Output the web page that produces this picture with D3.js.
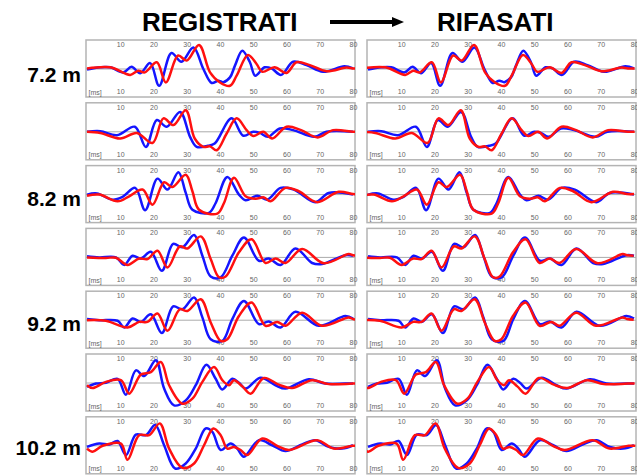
<!DOCTYPE html>
<html>
<head>
<meta charset="utf-8">
<script src="https://cdn.jsdelivr.net/npm/d3@7"></script>
<style>
  body { margin: 0; background: #fff; }
  svg { display: block; }
  text { font-family: "Liberation Sans", Arial, sans-serif; }
</style>
</head>
<body>
<svg id="chart" width="637" height="475"></svg>
<script>
// traces: [time ms, amplitude], amplitude 1 = panel half height
const blueRow1 = [[0,-0.02],[4,0.06],[7,0.06],[11,-0.12],[13.4,0.08],[16,-0.15],[19,0.21],[21.7,-0.6],[25.4,0.57],[28.4,0.26],[32,0.77],[35,0],[37.5,-0.5],[39.5,-0.42],[41,-0.47],[43,-0.3],[44.5,0.12],[46.7,0.65],[49,0.24],[50.6,-0.24],[53.4,0.06],[55.5,0.02],[58.4,-0.21],[62,0.26],[66,0.14],[71,-0.1],[77.4,0.1],[80,0.02]];
const redRow1 = [[0,0.02],[7,0.06],[13,-0.21],[15.4,-0.06],[17.4,-0.12],[21,0.24],[23.7,-0.48],[27.4,0.48],[30,0.3],[33.7,0.86],[37,-0.12],[40,-0.48],[43,-0.6],[45,-0.24],[48.4,0.5],[51,0.18],[52.7,-0.1],[56.4,0.06],[60,-0.14],[63,0.24],[67,0.14],[72,-0.08],[78,0.05],[80,0.02],[82,0.02]];

const blueRow2 = [[0,0],[4,0.02],[9,-0.12],[14.4,0.18],[17.7,-0.54],[21,0.42],[24,0.18],[28,0.71],[31,-0.18],[33,-0.54],[36.4,-0.5],[38.4,-0.42],[43.5,0.48],[47,-0.14],[50,0],[52,-0.04],[54.4,-0.18],[58,0.12],[62,0.06],[68.4,-0.18],[72,0],[80,0]];
const redRow2 = [[0,0],[4,-0.04],[10,-0.24],[15,-0.04],[19.7,-0.4],[23,0.48],[26,0.24],[29.7,0.77],[32.4,-0.24],[35,-0.54],[37,-0.52],[39,-0.66],[42,-0.06],[45,0.48],[48,0.06],[50,-0.15],[53,0],[55.7,-0.24],[60,0.18],[64.4,0.06],[69.4,-0.2],[74,0.06],[80,0],[82,0]];

const blueRow3 = [[0,0],[3,0.04],[7.7,-0.18],[10.7,-0.08],[14.5,0.24],[17.5,-0.56],[21.2,0.57],[24.2,0.18],[27.5,0.8],[29.7,0.06],[31.7,-0.54],[36.7,-0.65],[38.7,-0.3],[42.2,0.63],[45.7,0],[47.7,-0.2],[51.2,-0.04],[54.2,-0.18],[58.2,0.24],[62.2,0.18],[68.7,-0.27],[72.7,0.06],[80,0]];
const redRow3 = [[0,-0.04],[3.7,0],[9.2,-0.24],[12.7,-0.06],[16.7,0.18],[19.7,-0.36],[23.2,0.44],[25.7,0.27],[29.7,0.71],[31.7,0.12],[33.7,-0.54],[39.2,-0.68],[41.2,-0.3],[44.2,0.6],[47.7,-0.06],[50.7,-0.15],[53.2,-0.1],[55.2,-0.24],[59.7,0.24],[63.7,0.12],[69.2,-0.27],[75.7,0.1],[80,0.02],[82,0.02]];

const blueRow4 = [[0,0.04],[3.7,0],[8.7,0],[11.2,-0.27],[13.7,0.06],[16.2,-0.04],[19.2,0.2],[22.5,-0.48],[25.9,0.48],[28.7,0.36],[32.2,0.8],[34.7,0.06],[37.2,-0.68],[40.2,-0.71],[43.7,0.06],[47.2,0.71],[51.7,-0.12],[54.7,-0.04],[58.2,-0.27],[62.7,0.32],[67.7,-0.2],[70.7,-0.24],[77.7,0.08],[80,0.06]];
const redRow4 = [[0,0],[5.7,-0.02],[8.7,-0.01],[12.2,-0.27],[15.7,-0.04],[18.2,-0.06],[21.2,0.24],[24.2,-0.36],[27.9,0.39],[30.2,0.32],[34.2,0.75],[37.2,-0.06],[39.7,-0.71],[41.7,-0.68],[45.7,0.18],[49.5,0.65],[53.7,-0.2],[56.7,-0.04],[59.7,-0.2],[64.7,0.3],[71.2,-0.21],[78.7,0.12],[80,0.08],[82,0.06]];

const blueRow5 = [[0,0.04],[3.7,0],[9.2,-0.02],[11.2,-0.26],[13.7,0.06],[16.2,-0.06],[19.2,0.21],[22.5,-0.46],[25.9,0.49],[28.7,0.39],[32.2,0.81],[34.7,0.1],[37.2,-0.68],[40.7,-0.74],[43.7,0.04],[47.2,0.69],[51.7,-0.14],[54.7,-0.05],[58.2,-0.26],[62.7,0.3],[69.7,-0.2],[77.7,0.15],[80,0.06]];
const redRow5 = [[0,0],[5.7,-0.02],[12.2,-0.26],[15.7,-0.06],[18.2,-0.06],[21.2,0.24],[24.2,-0.38],[27.9,0.39],[30.2,0.33],[34.2,0.75],[37.2,-0.08],[40.2,-0.74],[42.2,-0.68],[45.7,0.15],[49.5,0.63],[53.7,-0.2],[57.2,-0.06],[59.7,-0.2],[64.7,0.27],[70.7,-0.2],[78.7,0.1],[80,0.04],[82,0.02]];

const blueRow6 = [[0,-0.14],[2.7,-0.02],[5.7,0.01],[9.2,0.15],[11.7,-0.42],[14.7,0.45],[17.2,0.25],[20.7,0.81],[23.2,-0.2],[26.2,-0.8],[29.7,-0.62],[32.7,-0.08],[35.9,0.65],[38.7,0.15],[40.7,-0.23],[43.7,0.15],[45.7,0.01],[47.7,-0.2],[52.2,0.19],[56.7,-0.08],[59.7,-0.2],[66.7,0.13],[71.7,-0.02],[77.7,-0.02],[80,-0.02]];
const redRow6 = [[0,-0.08],[1.7,-0.18],[5.7,0.04],[10.2,0.1],[12.7,-0.38],[16.2,0.3],[19.2,0.39],[22.2,0.75],[24.7,-0.08],[28.7,-0.74],[31.7,-0.56],[34.7,0.04],[38.2,0.57],[40.7,0.1],[42.7,-0.08],[44.2,0.1],[46.7,-0.12],[49.2,-0.38],[53.2,0.18],[57.7,-0.06],[61.7,-0.18],[67.7,0.1],[72.7,-0.04],[80,-0.02],[82,-0.02]];

const blueRow7 = [[0,-0.04],[3.7,0.08],[6.7,0.05],[9.2,0.17],[11.7,-0.33],[14.7,0.4],[17.7,0.38],[20.5,0.74],[23.2,0.02],[26.5,-0.81],[29.7,-0.63],[32.7,-0.1],[35.7,0.62],[37.7,0.5],[40.2,-0.15],[43.2,0.08],[45.2,-0.1],[47.2,-0.39],[51.7,0.2],[55.7,0.02],[59.7,-0.19],[64.7,0.05],[68.7,0.2],[72.7,-0.04],[76.7,-0.1],[80,0.02]];
const redRow7 = [[0,-0.1],[1.7,-0.21],[4.7,0],[10.2,0.08],[12.2,-0.5],[15.7,0.38],[18.7,0.38],[21.9,0.8],[24.7,-0.1],[28.7,-0.79],[32.2,-0.63],[35.2,0.02],[38,0.62],[40.2,0.38],[42.2,-0.1],[44.2,-0.04],[46.2,-0.15],[48.2,-0.33],[52.7,0.26],[57.2,0],[60.7,-0.15],[69.2,0.2],[74.2,-0.1],[80,0],[82,0]];

// time shift (ms) applied to the red trace in the RIFASATI column
const phaseShift = [-1.8, -1.8, -2.0, -2.1, -2.1, -1.8, -1.6];
const depthLabels = ["7.2 m", "", "8.2 m", "", "9.2 m", "", "10.2 m"];
const tickValues = [10, 20, 30, 40, 50, 60, 70, 80];
const titleLeft = "REGISTRATI";
const titleRight = "RIFASATI";

const blueRows = [blueRow1, blueRow2, blueRow3, blueRow4, blueRow5, blueRow6, blueRow7];
const redRows = [redRow1, redRow2, redRow3, redRow4, redRow5, redRow6, redRow7];

const svg = d3.select("#chart");
const panelW = 269, panelH = 57;
const rowTop = i => 40 + i * 62.8;
const columns = [{ left: 86, shifted: false }, { left: 367, shifted: true }];

// titles and arrow
svg.append("text").attr("x", 142).attr("y", 31)
  .style("font-size", "26px").style("font-weight", "bold").text(titleLeft);
svg.append("text").attr("x", 437).attr("y", 31)
  .style("font-size", "26px").style("font-weight", "bold").text(titleRight);
svg.append("line").attr("x1", 330).attr("x2", 394).attr("y1", 22).attr("y2", 22)
  .attr("stroke", "#000").attr("stroke-width", 4);
svg.append("path").attr("d", "M392,17 L404,22 L392,27 Z").attr("fill", "#000");

// depth labels
depthLabels.forEach((lab, i) => {
  if (!lab) return;
  svg.append("text").attr("x", 81).attr("y", 82 + i * 62.2)
    .attr("text-anchor", "end")
    .style("font-size", "21px").style("font-weight", "bold")
    .text(lab);
});

columns.forEach((col, ci) => {
  const x = d3.scaleLinear().domain([0, 80]).range([col.left + 1, col.left + 267]);

  blueRows.forEach((blue, ri) => {
    const top = rowTop(ri);
    const y = d3.scaleLinear().domain([-1, 1]).range([top + 57, top + 1]);
    const g = svg.append("g");
    const clipId = `clip-${ci}-${ri}`;

    g.append("clipPath").attr("id", clipId)
      .append("rect")
      .attr("x", col.left).attr("y", top)
      .attr("width", panelW).attr("height", panelH);

    g.append("rect")
      .attr("x", col.left).attr("y", top)
      .attr("width", panelW).attr("height", panelH)
      .attr("fill", "#fff")
      .attr("stroke", "#b4b4b4").attr("stroke-width", 1.5);

    // zero line
    g.append("line")
      .attr("x1", col.left).attr("x2", col.left + panelW)
      .attr("y1", y(0)).attr("y2", y(0))
      .attr("stroke", "#aaa").attr("stroke-width", 1);

    // tick labels, top and bottom, inside the frame
    const axisTopG = g.append("g").attr("transform", `translate(0,${top})`)
      .call(d3.axisBottom(x).tickValues(tickValues).tickSize(0).tickPadding(2));
    const axisBotG = g.append("g").attr("transform", `translate(0,${top + 48})`)
      .call(d3.axisBottom(x).tickValues(tickValues).tickSize(0).tickPadding(1));
    [axisTopG, axisBotG].forEach(a => {
      a.select(".domain").remove();
      a.selectAll("text").attr("fill", "#666")
        .style("font-size", "7px").style("font-family", "Liberation Sans, Arial, sans-serif");
      // keep the last label inside the picture on the right column
      if (col.shifted) {
        a.selectAll("text").filter(d => d === 80).attr("text-anchor", "end").attr("dx", "4");
      }
    });

    g.append("text").attr("x", col.left + 2.5).attr("y", top + 54.5)
      .attr("fill", "#666").style("font-size", "7px").text("[ms]");

    const shift = col.shifted ? phaseShift[ri] : 0;
    const traces = g.append("g").attr("clip-path", `url(#${clipId})`);

    const blueLine = d3.line()
      .x(d => x(d[0])).y(d => y(d[1]))
      .curve(d3.curveCatmullRom.alpha(0.5));
    const redLine = d3.line()
      .x(d => x(d[0] + shift)).y(d => y(d[1]))
      .curve(d3.curveCatmullRom.alpha(0.5));

    traces.append("path").datum(blue)
      .attr("fill", "none").attr("stroke", "#1515ff").attr("stroke-width", 2.5)
      .attr("stroke-linejoin", "round").attr("d", blueLine);
    traces.append("path").datum(redRows[ri])
      .attr("fill", "none").attr("stroke", "#ff1010").attr("stroke-width", 2.5)
      .attr("stroke-linejoin", "round").attr("d", redLine);
  });
});
</script>
</body>
</html>
